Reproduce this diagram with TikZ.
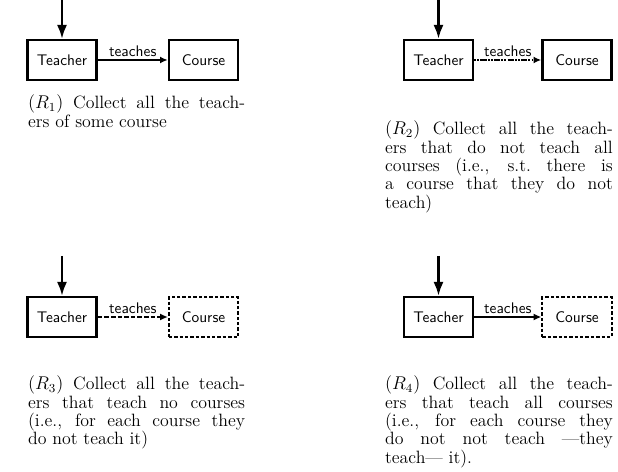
\documentclass[tikz,border=0pt]{standalone}
\usepackage{tikz}
\usetikzlibrary{positioning,arrows.meta}

\begin{document}
\begin{tikzpicture}[
  x=0.65pt, y=-0.65pt,
  ent/.style={draw, line width=1.5pt, font=\sffamily, minimum height=26pt,
              minimum width=45pt, inner sep=2pt},
  optent/.style={ent, line width=1.3pt, dash pattern=on 2.2pt off 1.3pt},
  cap/.style={anchor=north west, align=justify, text width=#1, inner sep=0pt,
              font=\fontsize{11.6}{11.9}\selectfont},
  inarr/.style={-{Latex[length=9pt,width=6.5pt]}},
  every path/.style={line width=1.5pt, -{Latex[length=5pt,width=4.5pt]}}
]
\useasboundingbox (0,0) rectangle (618,472);

% R1
\node[ent] (t1) at (62,60) {Teacher};
\node[ent] (c1) at (203.5,60) {Course};
\coordinate (in1) at (62,0);
\draw[inarr] (in1) -- (t1);
\draw (t1) -- node[above, font=\sffamily, inner sep=1.5pt] {teaches} (c1);
\node[cap=141pt] (cap1) at (27,94)
  {$(R_1)$ Collect all the teach-\linebreak ers of some course};

% R2
\node[ent] (t2) at (438.5,60) {Teacher};
\node[ent] (c2) at (577,60) {Course};
\coordinate (in2) at (438.5,0);
\draw[inarr] (in2) -- (t2);
\draw[dash pattern=on 1.2pt off 0.8pt on 1.2pt off 0.8pt on 4pt off 0.8pt] (t2) -- node[above, font=\sffamily, inner sep=1.5pt] {teaches} (c2);
\node[cap=148pt] (cap2) at (384,120)
  {$(R_2)$ Collect all the teach-\linebreak ers that do not teach all\linebreak
   courses (i.e., s.t.\ there is\linebreak a course that they do not\linebreak teach)};

% R3
\node[ent] (t3) at (62,317) {Teacher};
\node[optent] (c3) at (203.5,317) {Course};
\coordinate (in3) at (62,256);
\draw[inarr] (in3) -- (t3);
\draw[dash pattern=on 3pt off 1.3pt] (t3) -- node[above, font=\sffamily, inner sep=1.5pt] {teaches} (c3);
\node[cap=141pt] (cap3) at (27,375)
  {$(R_3)$ Collect all the teach-\linebreak ers that teach no courses\linebreak
   (i.e., for each course they\linebreak do not teach it)};

% R4
\node[ent] (t4) at (438.5,317) {Teacher};
\node[optent] (c4) at (577,317) {Course};
\coordinate (in4) at (438.5,256);
\draw[inarr] (in4) -- (t4);
\draw (t4) -- node[above, font=\sffamily, inner sep=1.5pt] {teaches} (c4);
\node[cap=148pt] (cap4) at (384,375)
  {$(R_4)$ Collect all the teach-\linebreak ers that teach all courses\linebreak
   (i.e., for each course they\linebreak do not not teach ---they\linebreak teach--- it).};
\end{tikzpicture}
\end{document}
